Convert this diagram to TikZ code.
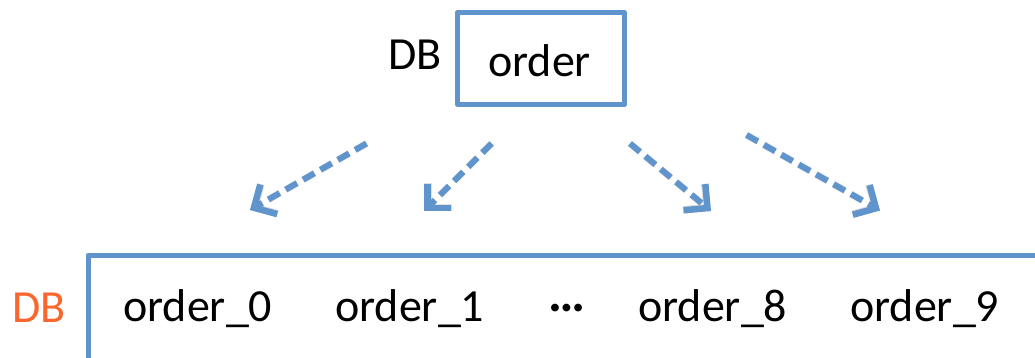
\documentclass[tikz,border=0pt]{standalone}
\usepackage{fontspec}
\setmainfont{Carlito}
\usetikzlibrary{arrows.meta}
\definecolor{lineblue}{RGB}{96,148,204}
\definecolor{dborange}{RGB}{250,102,46}
\tikzset{
  label text/.style={inner sep=0pt, anchor=base west, font=\fontsize{46}{50}\selectfont},
  tablebox/.style={draw=lineblue, line width=5pt, line join=round},
  split arrow/.style={draw=lineblue, line width=6pt, dash pattern=on 13pt off 7pt,
    -{Straight Barb[length=17pt, width=34pt, line width=6.5pt]}},
  arrow shade/.style={draw=black, opacity=0.12, line width=7pt, dash pattern=on 13pt off 7pt,
    -{Straight Barb[length=17pt, width=34pt, line width=7.5pt]}}
}
\begin{document}
\begin{tikzpicture}[x=1pt, y=-1pt]
  \useasboundingbox (0,0) rectangle (1035,357);
  \clip (0,0) rectangle (1035,357);

  % logical table
  \draw[tablebox] (457.5,12.5) rectangle (624.5,104.5);
  \node[label text] (src) at (488,76.7) {order};
  \node[label text] (srcdb) at (388,69.5) {DB};

  % physical shards, the frame runs past the right and bottom edges
  \draw[tablebox] (88,255) rectangle (1060,400);
  \node[label text, text=dborange] (dstdb) at (12,322.5) {DB};
  \node[label text] (t0) at (123,321.7) {order\_0};
  \node[label text] (t1) at (335,321.7) {order\_1};
  \node[label text, font=\fontsize{52}{56}\selectfont\bfseries] (dots) at (548,321.7) {\raisebox{10pt}{…}};
  \node[label text] (t8) at (638,321.7) {order\_8};
  \node[label text] (t9) at (850,321.7) {order\_9};

  % ends of the split arrows
  \coordinate (a1s) at (366.5,143.5);
  \coordinate (a1e) at (250,210);
  \coordinate (a2s) at (491.5,143.5);
  \coordinate (a2e) at (424,211);
  \coordinate (a3s) at (630,143.5);
  \coordinate (a3e) at (711,211);
  \coordinate (a4s) at (746.5,135);
  \coordinate (a4e) at (880,210.5);

  % soft shadows under the arrows
  \begin{scope}[shift={(1.5,2.5)}]
    \foreach \s/\e in {a1s/a1e, a2s/a2e, a3s/a3e, a4s/a4e}
      \draw[arrow shade] (\s) -- (\e);
  \end{scope}

  \foreach \s/\e in {a1s/a1e, a2s/a2e, a3s/a3e, a4s/a4e}
    \draw[split arrow] (\s) -- (\e);
\end{tikzpicture}
\end{document}
